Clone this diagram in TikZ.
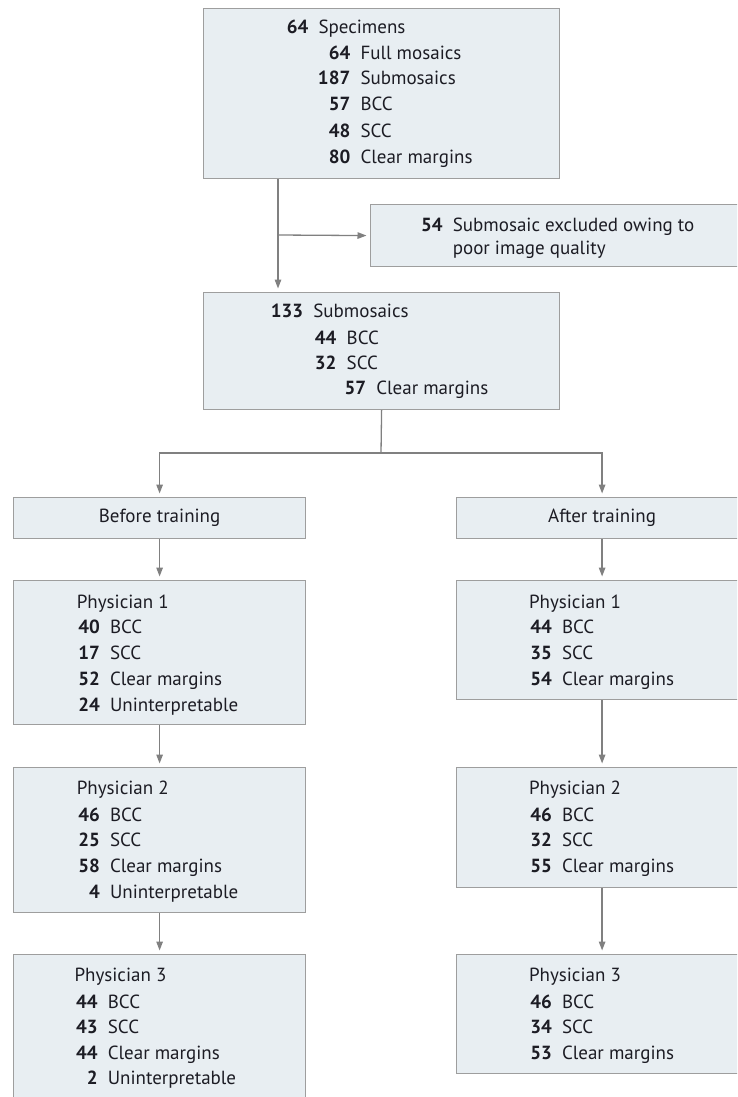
\documentclass[tikz,border=0pt]{standalone}
\usepackage{fontspec}
\setmainfont{PT Sans}
\usetikzlibrary{arrows.meta}
\definecolor{boxfill}{RGB}{232,238,242}
\definecolor{boxline}{RGB}{158,158,158}
\definecolor{linecol}{RGB}{128,128,128}
\definecolor{txt}{RGB}{28,28,36}
\tikzset{
  box/.style={draw=boxline, fill=boxfill, line width=1.2pt, rectangle, inner sep=0pt, anchor=north west},
  conn/.style={draw=linecol, line width=1.3pt},
  arr/.style={conn, -{Triangle[length=9pt,width=6.5pt]}, shorten >=3.5pt},
  num/.style={inner sep=0pt, anchor=base east, text=txt, font=\fontsize{19}{22}\selectfont\bfseries},
  lab/.style={inner sep=0pt, anchor=base west, text=txt, font=\fontsize{19}{22}\selectfont},
  head/.style={inner sep=0pt, text=txt, font=\fontsize{19}{22}\selectfont}
}
\newcommand\rowitem[5]{%
  \node[num] (#1n) at (#2,#3) {#4};
  \node[lab] (#1l) at ([xshift=9.8pt]#1n.base east) {#5};}
\begin{document}
\begin{tikzpicture}[x=1pt,y=-1pt]
\useasboundingbox (0,0) rectangle (737,1097);
\clip (0,0) rectangle (737,1097);
\fill[white] (0,0) rectangle (737,1097);

% boxes
\node[box, minimum width=356pt, minimum height=170pt] (top) at (203,8) {};
\node[box, minimum width=377pt, minimum height=62pt] (excl) at (370,204) {};
\node[box, minimum width=356pt, minimum height=117pt] (sub) at (203,292) {};
\node[box, minimum width=292pt, minimum height=41pt] (before) at (13,497) {};
\node[box, minimum width=291pt, minimum height=41pt] (after) at (456,497) {};
\node[box, minimum width=292pt, minimum height=144pt] (L1) at (13,580) {};
\node[box, minimum width=292pt, minimum height=145pt] (L2) at (13,767) {};
\node[box, minimum width=292pt, minimum height=152pt] (L3) at (13,954) {};
\node[box, minimum width=291pt, minimum height=119pt] (R1) at (456,580) {};
\node[box, minimum width=291pt, minimum height=120pt] (R2) at (456,767) {};
\node[box, minimum width=291pt, minimum height=119pt] (R3) at (456,954) {};

% top box text
\rowitem{t1}{308.5}{34}{64}{Specimens}
\rowitem{t2}{350.5}{59.5}{64}{Full mosaics}
\rowitem{t3}{350.5}{85}{187}{Submosaics}
\rowitem{t4}{350.5}{111}{57}{BCC}
\rowitem{t5}{350.5}{137}{48}{SCC}
\rowitem{t6}{350.5}{163}{80}{Clear margins}

% exclusion
\rowitem{e1}{442.8}{231}{54}{Submosaic excluded owing to}
\node[lab] (e2l) at (e1l.base west |- 0,254) {poor image quality};

% submosaics box
\rowitem{s1}{303.3}{317}{133}{Submosaics}
\rowitem{s2}{336.7}{344}{44}{BCC}
\rowitem{s3}{336.7}{369}{32}{SCC}
\rowitem{s4}{366.3}{394}{57}{Clear margins}

% branch heads
\node[head] (beforet) at (before.center) {Before training};
\node[head] (aftert) at (after.center) {After training};

% left column
\node[lab] (L1h) at (76.6,608) {Physician 1};
\rowitem{La}{100}{633}{40}{BCC}
\rowitem{Lb}{100}{659}{17}{SCC}
\rowitem{Lc}{100}{685}{52}{Clear margins}
\rowitem{Ld}{100}{711}{24}{Uninterpretable}

\node[lab] (L2h) at (76.6,794) {Physician 2};
\rowitem{Le}{100}{821}{46}{BCC}
\rowitem{Lf}{100}{846}{25}{SCC}
\rowitem{Lg}{100}{872}{58}{Clear margins}
\rowitem{Lh}{100}{898}{4}{Uninterpretable}

\node[lab] (L3h) at (74.3,981) {Physician 3};
\rowitem{Li}{97.8}{1008}{44}{BCC}
\rowitem{Lj}{97.8}{1033}{43}{SCC}
\rowitem{Lk}{97.8}{1059}{44}{Clear margins}
\rowitem{Lm}{97.8}{1084}{2}{Uninterpretable}

% right column
\node[lab] (R1h) at (528.8,608) {Physician 1};
\rowitem{Ra}{552}{633}{44}{BCC}
\rowitem{Rb}{552}{659}{35}{SCC}
\rowitem{Rc}{552}{685}{54}{Clear margins}

\node[lab] (R2h) at (528.8,794) {Physician 2};
\rowitem{Rd}{552}{821}{46}{BCC}
\rowitem{Re}{552}{846}{32}{SCC}
\rowitem{Rf}{552}{872}{55}{Clear margins}

\node[lab] (R3h) at (528.8,981) {Physician 3};
\rowitem{Rg}{552}{1008}{46}{BCC}
\rowitem{Rh}{552}{1033}{34}{SCC}
\rowitem{Ri}{552}{1059}{53}{Clear margins}

% connectors
\coordinate (j1) at (278,235);
\draw[conn] (top.south -| j1) -- (j1);
\draw[arr] (j1) -- (sub.north -| j1);
\draw[arr] (j1) -- (excl.west);

\coordinate (split) at (381,453);
\draw[conn] (sub.south) -- (split);
\draw[arr] (split) -| (before);
\draw[arr] (split) -| (after);

\draw[arr] (before) -- (L1);
\draw[arr] (L1) -- (L2);
\draw[arr] (L2) -- (L3);
\draw[arr] (after) -- (R1);
\draw[arr] (R1) -- (R2);
\draw[arr] (R2) -- (R3);
\end{tikzpicture}
\end{document}
